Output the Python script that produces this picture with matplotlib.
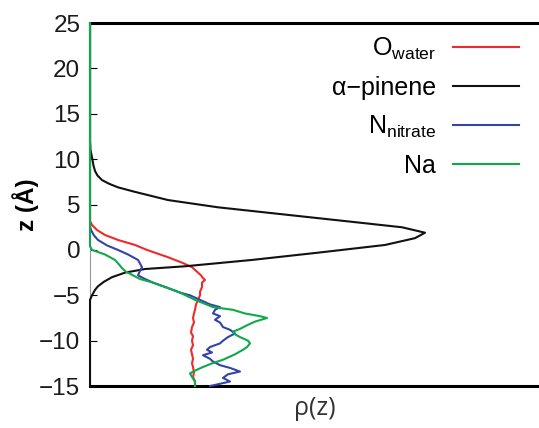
#!/usr/bin/env python3
"""
Density profiles along z for the alpha-pinene / water / NaNO3 slab.
"""

import matplotlib
matplotlib.use('Agg')
import matplotlib.pyplot as plt

plt.rcParams['font.family'] = ['Liberation Sans', 'DejaVu Sans']
plt.rcParams['mathtext.fontset'] = 'custom'
plt.rcParams['mathtext.rm'] = 'Liberation Sans'

# O_water
z_water = [25, 3.2, 2.75, 2.2, 1.65, 1.1, 0.55, 0, -0.8, -1.4, -1.9, -2.4,
           -2.8, -3.1, -3.3, -3.6, -4.1, -4.6, -5, -5.5, -6, -6.6, -7, -7.5,
           -8, -8.5, -9.1, -9.5, -10, -10.5, -11, -11.5, -12, -12.5, -12.9,
           -13.5, -14, -14.5, -15]
rho_water = [0, 0, 0.02, 0.07, 0.15, 0.28, 0.45, 0.57, 0.78, 0.92, 1.02, 1.07,
             1.11, 1.13, 1.15, 1.12, 1.12, 1.1, 1.1, 1.08, 1.06, 1.05, 1.04,
             1.03, 1.04, 1.02, 1.01, 1.03, 1.02, 1.03, 1.01, 1.02, 1.03, 1.02,
             1.03, 1.04, 1.03, 1.05, 1.05]

# alpha-pinene
z_pinene = [25, 12, 11, 10.2, 9.3, 8.7, 8.2, 7.7, 7.3, 6.9, 6.4, 5.5, 4.7, 3.9,
            3.1, 2.5, 1.9, 1.3, 0.55, -0.3, -1.1, -1.8, -2.1, -2.5, -3, -3.5,
            -4, -4.4, -5, -5.5, -6, -15]
rho_pinene = [0, 0, 0.005, 0.02, 0.035, 0.05, 0.075, 0.12, 0.19, 0.28, 0.45,
              0.78, 1.28, 1.95, 2.62, 3.12, 3.35, 3.25, 2.95, 2.28, 1.62, 0.95,
              0.55, 0.35, 0.22, 0.14, 0.08, 0.05, 0.02, 0.0, 0, 0]

# N_nitrate
z_nitrate = [25, 2.6, 2.2, 1.6, 1.1, 0.5, 0, -0.5, -1.1, -1.5, -1.9, -2.3, -2.8,
             -3.2, -3.6, -4.2, -4.7, -5.0, -5.5, -6.0, -6.3, -6.6, -7.0, -7.3,
             -7.7, -8.0, -8.5, -8.8, -9.2, -9.6, -10.0, -10.3, -10.7, -11.0,
             -11.3, -11.6, -12.0, -12.3, -12.7, -13.0, -13.4, -13.7, -14.1,
             -14.5, -15]
rho_nitrate = [0, 0, 0.01, 0.04, 0.08, 0.17, 0.28, 0.38, 0.48, 0.5, 0.52, 0.5,
               0.48, 0.55, 0.63, 0.78, 0.9, 1.0, 1.1, 1.2, 1.3, 1.25, 1.23, 1.3,
               1.25, 1.3, 1.33, 1.4, 1.45, 1.38, 1.33, 1.3, 1.2, 1.17, 1.22,
               1.13, 1.2, 1.23, 1.3, 1.4, 1.5, 1.38, 1.33, 1.4, 1.2]

# Na
z_na = [25, 0.4, 0, -0.5, -1.1, -1.6, -2.0, -2.4, -2.8, -3.2, -3.6, -4.2, -4.7,
        -5.5, -6.3, -6.6, -7.0, -7.3, -7.5, -7.9, -8.3, -8.7, -9.0, -9.3, -9.6,
        -10.0, -10.3, -10.7, -11.0, -11.5, -12.1, -12.5, -12.9, -13.3, -13.6,
        -14.0, -14.5, -15]
rho_na = [0, 0, 0.02, 0.15, 0.25, 0.29, 0.32, 0.36, 0.43, 0.5, 0.63, 0.78, 0.9,
          1.05, 1.23, 1.43, 1.55, 1.7, 1.77, 1.65, 1.57, 1.5, 1.43, 1.45, 1.5,
          1.58, 1.6, 1.57, 1.53, 1.45, 1.33, 1.22, 1.13, 1.05, 1.0, 1.02, 1.05,
          1.05]

labels = [r'O$_{\mathrm{water}}$', 'α−pinene', r'N$_{\mathrm{nitrate}}$', 'Na']
colors = ['#ee2a2a', '#111111', '#3344a8', '#0fa84a']
yticks = [-15, -10, -5, 0, 5, 10, 15, 20, 25]


def main():
    fig = plt.figure(figsize=(5.39, 4.28), dpi=100)
    ax = fig.add_axes([0.167, 0.098, 0.833, 0.848])

    series = [(rho_water, z_water), (rho_pinene, z_pinene),
              (rho_nitrate, z_nitrate), (rho_na, z_na)]
    for (x, z), lab, col in zip(series, labels, colors):
        ax.plot(x, z, color=col, lw=1.5, label=lab, clip_on=False, zorder=3)

    ax.set_xlim(0, 4.49)
    ax.set_ylim(-15, 25)
    ax.set_yticks(yticks)
    ax.set_xticks([])
    ax.tick_params(axis='y', direction='in', length=5, width=0.8,
                   labelsize=17.5, pad=7, labelcolor='#1a1a1a')

    # frame: thick top/bottom, thin grey left, no right
    ax.spines['right'].set_visible(False)
    ax.spines['top'].set_linewidth(2.2)
    ax.spines['bottom'].set_linewidth(2.2)
    ax.spines['left'].set_linewidth(0.8)
    ax.spines['left'].set_color('#999999')

    ax.set_ylabel('z (Å)', fontsize=17.5, fontweight='bold', labelpad=0)
    ax.set_xlabel('ρ(z)', fontsize=18, family=['Open Sans', 'DejaVu Sans'],
                  color='#333333', labelpad=7)

    leg = ax.legend(loc='upper right', bbox_to_anchor=(0.983, 1.0),
                    frameon=False, markerfirst=False, fontsize=18,
                    handlelength=2.65, handletextpad=0.65, labelspacing=0.56,
                    borderaxespad=0.1)
    for col in leg._legend_handle_box.get_children():
        col.align = 'right'

    fig.savefig('out.png', dpi=100)


if __name__ == '__main__':
    main()
